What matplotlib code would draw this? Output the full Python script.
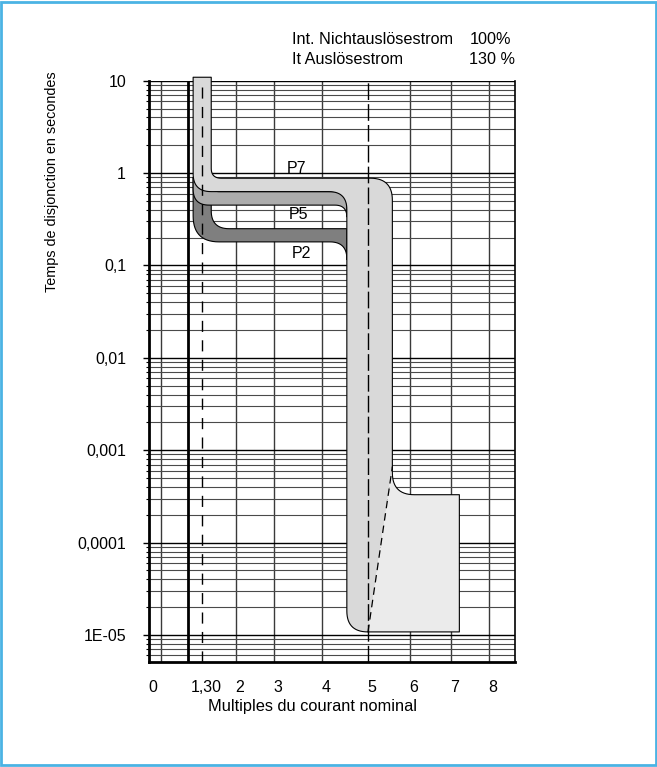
import numpy as np
import matplotlib
matplotlib.use('Agg')
import matplotlib.pyplot as plt
import matplotlib.transforms as mtransforms
from matplotlib.patches import Rectangle, Polygon
from matplotlib.ticker import FixedLocator, LogLocator, NullFormatter

plt.rcParams['font.family'] = ['Liberation Sans', 'DejaVu Sans']

# hand-drawn x axis: multiple of nominal current -> position along the axis
x_knots = [0, 1, 1.3, 2, 3, 4, 5, 6, 7, 8, 8.7]
x_pos = [0, 39, 53, 87, 125, 173, 219, 261, 302, 340, 366]
x_ticks = [0, 1.3, 2, 3, 4, 5, 6, 7, 8]
x_ticklabels = ['0', '1,30', '2', '3', '4', '5', '6', '7', '8']
x_grid = [0.3, 2, 3, 4, 6, 7, 8]

y_ticks = [1e-5, 1e-4, 1e-3, 1e-2, 1e-1, 1, 10]
y_ticklabels = ['1E-05', '0,0001', '0,001', '0,01', '0,1', '1', '10']

# band outlines: (multiple, time [s], corner radius [px])
p2_band = [(1.11, 0.9, 0), (1.49, 0.9, 0), (1.49, 0.25, 18), (4.54, 0.25, 0),
           (4.54, 0.115, 0), (4.54, 0.18, 17), (1.11, 0.18, 26)]
p5_band = [(1.11, 0.9, 0), (1.49, 0.9, 0), (1.49, 0.63, 8), (4.54, 0.63, 0),
           (4.54, 0.34, 0), (4.54, 0.45, 12), (1.11, 0.45, 16)]
p7_band = [(5.0, 1.08e-5, 0), (4.54, 1.08e-5, 21), (4.54, 0.63, 18), (1.11, 0.63, 18),
           (1.11, 10.9, 0), (1.49, 10.9, 0), (1.49, 0.88, 10), (5.58, 0.88, 22),
           (5.58, 6.6e-4, 0)]
inst_zone = [(5.58, 6.6e-4, 0), (5.58, 3.3e-4, 22), (7.22, 3.3e-4, 0),
             (7.22, 1.08e-5, 0), (5.0, 1.08e-5, 0)]

band_labels = ['P7', 'P5', 'P2']
label_x = [3.47, 3.52, 3.57]
label_t = [1.13, 0.36, 0.136]


def fwd(x):
    return np.interp(x, x_knots, x_pos)


def inv(p):
    return np.interp(p, x_pos, x_knots)


def rounded(ax, pts, n=16):
    xy = ax.transData.transform([(x, t) for x, t, r in pts])
    out = []
    for i, (x, t, r) in enumerate(pts):
        p = xy[i]
        if r == 0:
            out.append(p)
            continue
        a = xy[i - 1]
        b = xy[(i + 1) % len(pts)]
        d1 = (p - a) / np.linalg.norm(p - a)
        d2 = (b - p) / np.linalg.norm(b - p)
        p0 = p - d1 * r
        p2 = p + d2 * r
        s = np.linspace(0, 1, n)[:, None]
        out.extend((1 - s) ** 2 * p0 + 2 * (1 - s) * s * p + s ** 2 * p2)
    return ax.transData.inverted().transform(np.array(out))


fig = plt.figure(figsize=(6.57, 7.67), dpi=100)
ax = fig.add_axes([149 / 657, 1 - 661.7 / 767, 366 / 657, (661.7 - 80.7) / 767])

ax.set_xscale('function', functions=(fwd, inv))
ax.set_yscale('log')
ax.set_xlim(0, 8.7)
ax.set_ylim(5.14e-6, 10)

# grid
ax.set_axisbelow(True)
ax.yaxis.set_major_locator(FixedLocator(y_ticks))
ax.set_yticklabels(y_ticklabels)
ax.yaxis.set_minor_locator(LogLocator(base=10, subs=np.arange(2, 10)))
ax.yaxis.set_minor_formatter(NullFormatter())
ax.grid(True, which='major', axis='y', color='black', lw=1.0, zorder=0)
ax.grid(True, which='minor', axis='y', color='#4a4a4a', lw=0.8, zorder=0)
for xg in x_grid:
    ax.axvline(xg, color='#3a3a3a', lw=1.0, zorder=0.5)

ax.set_xticks(x_ticks)
ax.set_xticklabels(x_ticklabels)
ax.tick_params(axis='x', length=0, pad=13, labelsize=11.5)
ax.tick_params(axis='y', which='major', length=4.5, width=1, pad=12, labelsize=11.5)
ax.tick_params(axis='y', which='minor', length=2.2, width=0.8)
shift = mtransforms.ScaledTranslation(4 / 100, 0, fig.dpi_scale_trans)
for lab in ax.get_xticklabels():
    lab.set_transform(lab.get_transform() + shift)

ax.spines['top'].set_visible(False)
ax.spines['left'].set_linewidth(2)
ax.spines['bottom'].set_linewidth(2)
ax.spines['right'].set_linewidth(1.2)

fig.canvas.draw()

# bands
for band, col, z in [(p2_band, '#7f7f7f', 2), (p5_band, '#acacac', 3)]:
    poly = rounded(ax, band)
    ax.add_patch(Polygon(poly, closed=True, fc=col, ec='black', lw=0.8, zorder=z))

p7 = rounded(ax, p7_band)
ax.add_patch(Polygon(p7, closed=True, fc='#d9d9d9', ec='none', zorder=4, clip_on=False))
ax.plot(p7[:, 0], p7[:, 1], color='black', lw=0.8, zorder=4.1, clip_on=False)

inst = rounded(ax, inst_zone)
ax.add_patch(Polygon(inst, closed=True, fc='#ebebeb', ec='none', zorder=5))
ax.plot(inst[:, 0], inst[:, 1], color='black', lw=0.8, zorder=5.1)
ax.plot([inst_zone[-1][0], inst_zone[0][0]], [inst_zone[-1][1], inst_zone[0][1]],
        color='black', lw=0.9, dashes=(6, 4), zorder=5.2)

# reference lines
ax.axvline(1, color='black', lw=2, zorder=6)
ax.axvline(1.3, color='black', lw=1, dashes=(8, 6), zorder=6)
ax.axvline(5, color='black', lw=1, dashes=(12, 3), zorder=6)

for lab, xl, tl in zip(band_labels, label_x, label_t):
    ax.text(xl, tl, lab, ha='center', va='center', fontsize=11.5, zorder=7)

fig.text(291.7 / 657, 1 - 40 / 767, 'Int. Nichtauslösestrom', fontsize=11.7, va='center')
fig.text(469.3 / 657, 1 - 40 / 767, '100%', fontsize=11.7, va='center')
fig.text(291.7 / 657, 1 - 59.3 / 767, 'It Auslösestrom', fontsize=11.7, va='center')
fig.text(469.3 / 657, 1 - 59.3 / 767, '130 %', fontsize=11.7, va='center')

fig.text(51.7 / 657, 1 - 181.5 / 767, 'Temps de disjonction en secondes',
         rotation=90, fontsize=10.4, ha='center', va='center')
fig.text(312.5 / 657, 1 - 707 / 767, 'Multiples du courant nominal',
         fontsize=11.8, ha='center', va='center')

fig.patches.append(Rectangle((0.002, 0.002), 0.996, 0.996, transform=fig.transFigure,
                             fill=False, ec='#4bb3e4', lw=2))

fig.savefig('out.png', dpi=100)
